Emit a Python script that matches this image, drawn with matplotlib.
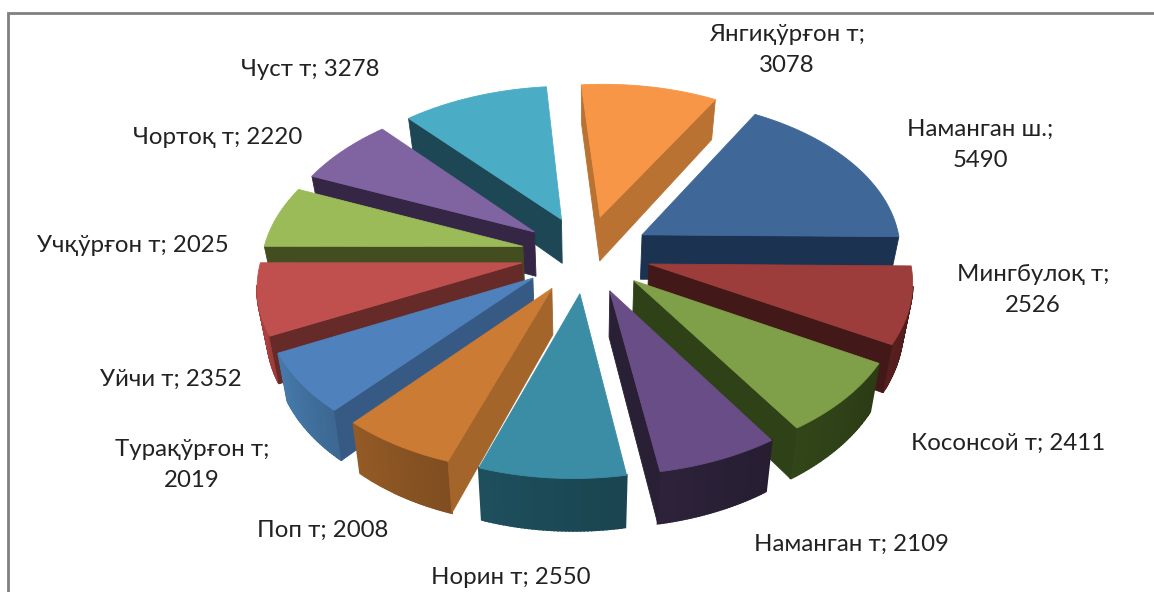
import numpy as np
import matplotlib
matplotlib.use("Agg")
import matplotlib.pyplot as plt
from matplotlib.patches import Polygon
from matplotlib.colors import to_rgb

categories = ["Янгиқўрғон т", "Наманган ш.", "Мингбулоқ т", "Косонсой т", "Наманган т", "Норин т",
              "Поп т", "Турақўрғон т", "Уйчи т", "Учқўрғон т", "Чортоқ т", "Чуст т"]
values = [3078, 5490, 2526, 2411, 2109, 2550, 2008, 2019, 2352, 2025, 2220, 3278]

top_colors = ["#F79646", "#3F6797", "#9C3D3B", "#7F9F48", "#694D86", "#3B8CA5",
              "#CB7B33", "#4F81BD", "#C0504D", "#9BBB59", "#8064A2", "#4BACC6"]
radial_colors = ["#B97232", "#1B3350", "#431819", "#2F4117", "#2A2036", "#163A45",
                 "#A4652B", "#375A85", "#662A28", "#434D20", "#352646", "#1D4755"]
arc_colors = ["#B97232", "#1B3350", "#521C1C", "#2F4117", "#2A2036", "#1C4A57",
              "#8A5423", "#41719F", "#A8403E", "#434D20", "#352646", "#1D4755"]

label_breaks = ["\n", "\n", "\n", " ", " ", " ", " ", "\n", " ", " ", " ", " "]
label_x = [787, 980, 1033, 1008, 851, 511, 323, 192, 171, 133, 218, 310]
label_y = [50, 145, 290, 443, 544, 577, 530, 465, 379, 245, 137, 69]

START = np.radians(-5.5)
EXPLODE = 0.25
CX, CY = 586.0, 254.0
BX, BY = 260.0, 155.0
K = 0.11
DEPTH = 45.0
BOTTOM_X = 0.97
SHEAR = -0.033

plt.rcParams["font.family"] = ["Lato", "Noto Sans", "DejaVu Sans"]
fig = plt.figure(figsize=(11.54, 5.92), dpi=100, facecolor="white")
ax = fig.add_axes([0, 0, 1, 1])
ax.set_xlim(0, 1154)
ax.set_ylim(592, 0)
ax.axis("off")


def project(x, y, bottom=False):
    s = 1.0 / (1.0 + K * y)
    px = BX * x * s
    py = CY - BY * y * s
    shift = SHEAR * (py - CY)
    if bottom:
        px = px * BOTTOM_X
        py = py + DEPTH * s
    return CX + px + shift, py


def face(xs, ys, color, z, lw=0.6):
    ax.add_patch(Polygon(np.column_stack([xs, ys]), closed=True, facecolor=color,
                         edgecolor=color, linewidth=lw, zorder=z))


def visible(p, q, outward):
    mid = (np.asarray(p) + np.asarray(q)) / 2
    eye = np.array([0.0, -1.0 / K])
    return np.dot(outward, eye - mid) > 0


def shade(color, f):
    return tuple(min(1, c * f) for c in to_rgb(color))


edges = START + np.concatenate([[0], np.cumsum(values)]) / np.sum(values) * 2 * np.pi
mids = (edges[:-1] + edges[1:]) / 2
order = np.argsort(-np.cos(mids))

for rank, i in enumerate(order):
    t0, t1, tm = edges[i], edges[i + 1], mids[i]
    z = 2 + rank * 2
    apex = np.array([EXPLODE * np.sin(tm), EXPLODE * np.cos(tm)])
    ts = np.linspace(t0, t1, 40)
    rim = np.column_stack([apex[0] + np.sin(ts), apex[1] + np.cos(ts)])

    # outer wall
    for j in range(len(rim) - 1):
        tt = (ts[j] + ts[j + 1]) / 2
        n = np.array([np.sin(tt), np.cos(tt)])
        if visible(rim[j], rim[j + 1], n):
            a, c = project(*rim[j]), project(*rim[j + 1])
            ab, cb = project(*rim[j], True), project(*rim[j + 1], True)
            frac = j / (len(rim) - 2)
            face([a[0], c[0], cb[0], ab[0]], [a[1], c[1], cb[1], ab[1]],
                 shade(arc_colors[i], 0.92 + 0.15 * frac), z, lw=1.5)

    # radial faces
    for t, corner, sign in ((t0, rim[0], -1), (t1, rim[-1], 1)):
        n = sign * np.array([np.cos(t), -np.sin(t)])
        if visible(apex, corner, n):
            a, c = project(*apex), project(*corner)
            ab, cb = project(*apex, True), project(*corner, True)
            face([a[0], c[0], cb[0], ab[0]], [a[1], c[1], cb[1], ab[1]], radial_colors[i], z)

    # top face
    pts = np.vstack([apex, rim])
    px, py = project(pts[:, 0], pts[:, 1])
    face(px, py, top_colors[i], z + 1)

for name, val, brk, lx, ly in zip(categories, values, label_breaks, label_x, label_y):
    ax.text(lx, ly, f"{name};{brk}{val}", ha="center", va="center", fontsize=17.3,
            color="#222222", linespacing=1.6, zorder=60)

ax.plot([8, 8, 1154], [592, 13, 13], color="#808080", lw=2, solid_joinstyle="miter", zorder=70)

fig.savefig("out.png", dpi=100, facecolor="white")
